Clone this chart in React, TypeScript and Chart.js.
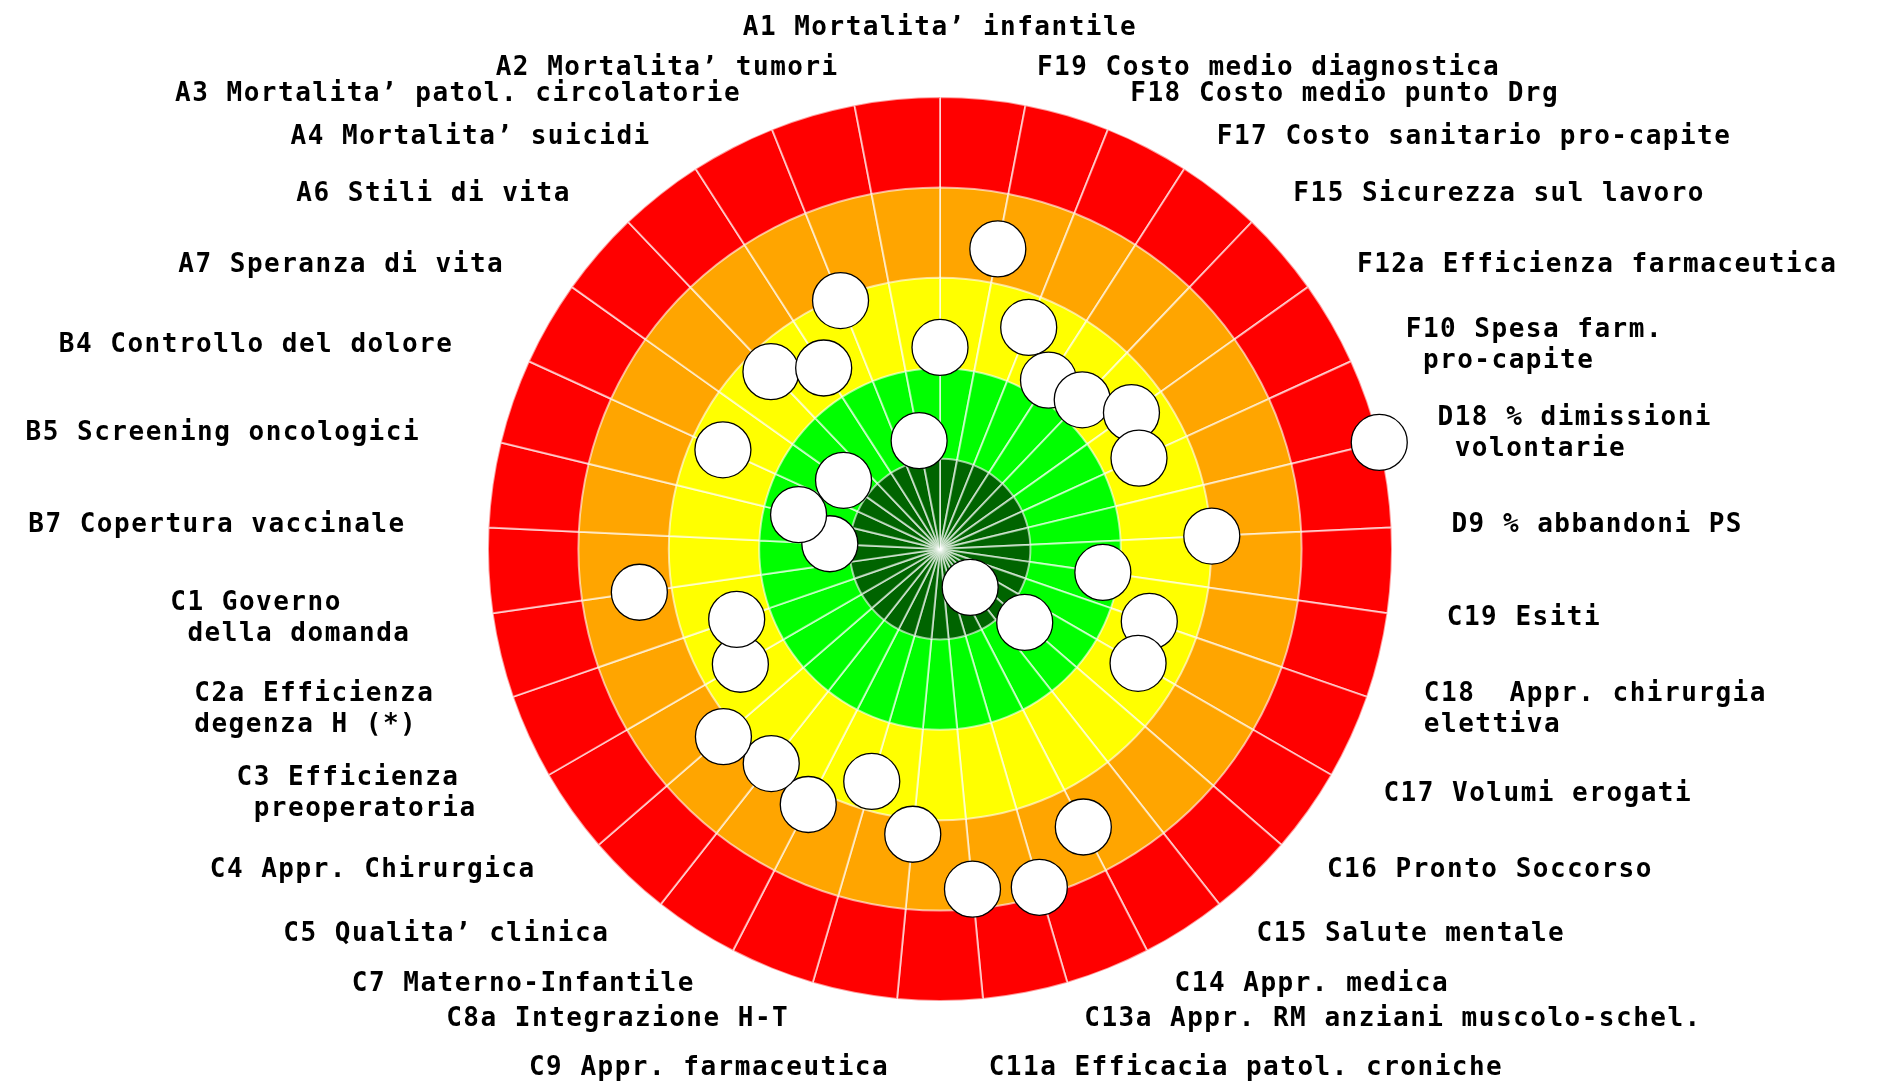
import React, { useEffect, useRef } from "react";
import { Chart, registerables } from "chart.js";

Chart.register(...registerables);

// Indicators, clockwise from the top (A1)
const categories: (string | string[])[] = [
  "A1 Mortalita’ infantile",
  "F19 Costo medio diagnostica",
  "F18 Costo medio punto Drg",
  "F17 Costo sanitario pro-capite",
  "F15 Sicurezza sul lavoro",
  "F12a Efficienza farmaceutica",
  ["F10 Spesa farm.", " pro-capite"],
  ["D18 % dimissioni", " volontarie"],
  "D9 % abbandoni PS",
  "C19 Esiti",
  ["C18  Appr. chirurgia", "elettiva"],
  "C17 Volumi erogati",
  "C16 Pronto Soccorso",
  "C15 Salute mentale",
  "C14 Appr. medica",
  "C13a Appr. RM anziani muscolo-schel.",
  "C11a Efficacia patol. croniche",
  "C9 Appr. farmaceutica",
  "C8a Integrazione H-T",
  "C7 Materno-Infantile",
  "C5 Qualita’ clinica",
  "C4 Appr. Chirurgica",
  ["C3 Efficienza", " preoperatoria"],
  ["C2a Efficienza", "degenza H (*)"],
  ["C1 Governo", " della domanda"],
  "B7 Copertura vaccinale",
  "B5 Screening oncologici",
  "B4 Controllo del dolore",
  "A7 Speranza di vita",
  "A6 Stili di vita",
  "A4 Mortalita’ suicidi",
  "A3 Mortalita’ patol. circolatorie",
  "A2 Mortalita’ tumori",
];

// Performance scores (0 = outer edge / worst, 5 = centre / best)
const scores: number[] = [
  2.77, 1.62, 2.36, 2.78, 2.72, 2.4, 2.58, 0.0, 1.99, 3.18, 2.55,
  2.47, 3.76, 4.46, 1.54, 1.1, 1.22, 1.83, 2.32, 1.82, 1.98, 1.83,
  2.45, 2.62, 1.64, 3.78, 3.39, 2.36, 3.69, 2.29, 2.62, 2.04, 3.78,
];

// Target bands (score ranges) and their outer distance from the centre
const bandNames: string[] = ["0-1", "1-2", "2-3", "3-4", "4-5"];
const bandOuter: number[] = [5, 4, 3, 2, 1];
const bandColors: string[] = ["#ff0000", "#ffa500", "#ffff00", "#00ff00", "#006400"];
const maxScore = 5;

// label placement (style)
const GAP_RIGHT = 60;
const GAP_LEFT = 83;
const GAP_VERTICAL = 38;
const LABEL_FONT = 'bold 26px "DejaVu Sans Mono", "Liberation Mono", monospace';
const LABEL_LINE = 31;

const labelPlugin = {
  id: "bersaglioLabels",
  afterDraw(chart: any) {
    const scale = chart.scales.r;
    const ctx = chart.ctx as CanvasRenderingContext2D;
    const labels = chart.data.labels as (string | string[])[];
    const R = scale.drawingArea;
    ctx.save();
    ctx.font = LABEL_FONT;
    (ctx as any).letterSpacing = "1.5px";
    ctx.fillStyle = "#000";
    ctx.textBaseline = "middle";
    ctx.textAlign = "left";
    labels.forEach((lab, i) => {
      const lines = Array.isArray(lab) ? lab : [lab];
      const a = scale.getIndexAngle(i);
      const s = Math.sin(a);
      const c = Math.cos(a);
      const x = scale.xCenter + s * (R + (s >= 0 ? GAP_RIGHT : GAP_LEFT));
      let y = scale.yCenter - c * (R + GAP_VERTICAL);
      if (Math.abs(s) < 0.12) y -= Math.sign(c) * LABEL_LINE;
      const widths = lines.map((l) => ctx.measureText(l).width);
      const blockW = Math.max(...widths);
      const top = y - (lines.length * LABEL_LINE) / 2;
      lines.forEach((l, k) => {
        let left: number;
        if (Math.abs(s) < 1e-6) left = x - widths[k] / 2;
        else if (s > 0) left = x;
        else left = x - blockW;
        ctx.fillText(l, left, top + LABEL_LINE * (k + 0.5));
      });
    });
    ctx.restore();
  },
};

export default function App() {
  const canvasRef = useRef<HTMLCanvasElement | null>(null);

  useEffect(() => {
    if (!canvasRef.current) return;
    const bandDatasets = bandOuter.map((r, k) => ({
      type: "polarArea" as const,
      label: bandNames[k],
      data: categories.map(() => r),
      backgroundColor: bandColors[k],
      borderColor: "rgba(255,255,255,0.6)",
      borderWidth: 2,
      order: r,
      clip: false as const,
    }));
    const pointDataset = {
      type: "radar" as const,
      label: "Punteggio",
      data: scores.map((s) => maxScore - s),
      showLine: false,
      fill: false,
      borderWidth: 0,
      borderColor: "rgba(0,0,0,0)",
      pointRadius: 28,
      pointHoverRadius: 28,
      pointBackgroundColor: "#ffffff",
      pointBorderColor: "#000000",
      pointBorderWidth: 1.3,
      order: 0,
      clip: false as const,
    };

    const chart = new Chart(canvasRef.current, {
      type: "polarArea",
      data: {
        labels: categories as any,
        datasets: [pointDataset as any, ...bandDatasets.slice().reverse()],
      },
      options: {
        responsive: false,
        animation: false,
        devicePixelRatio: 1,
        layout: { padding: { top: 97, bottom: 81, left: 0, right: 8 } },
        plugins: {
          legend: { display: false },
          tooltip: { enabled: false },
        },
        scales: {
          r: {
            min: 0,
            max: maxScore,
            startAngle: 0,
            ticks: { display: false },
            grid: { display: false },
            angleLines: { display: false },
            pointLabels: { display: false },
          },
        },
      } as any,
      plugins: [labelPlugin],
    });
    return () => chart.destroy();
  }, []);

  return (
    <div
      style={{
        position: "fixed",
        left: 0,
        top: 0,
        width: 1889,
        height: 1082,
        background: "#ffffff",
      }}
    >
      <canvas ref={canvasRef} width={1889} height={1082} style={{ display: "block" }} />
    </div>
  );
}
